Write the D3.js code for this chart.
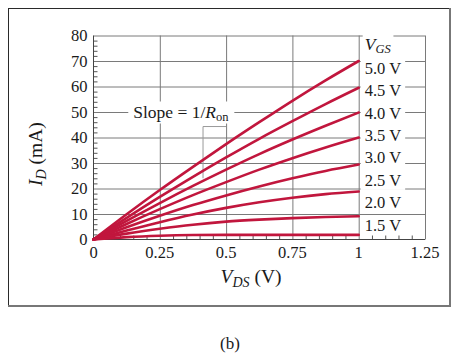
<!DOCTYPE html>
<html><head><meta charset="utf-8">
<script src="https://cdn.jsdelivr.net/npm/d3@7"></script>
<style>
body{margin:0;background:#fff}
svg{display:block}
text{font-family:"Liberation Serif","Times New Roman",serif;fill:#1a1a1a}
</style>
</head><body>
<svg id="c" width="460" height="357"></svg>
<script>
// ---- data ----
const vds = [0, 0.125, 0.25, 0.375, 0.5, 0.625, 0.75, 0.875, 1];
const id_5_0 = [0, 9.9, 19.4, 28.5, 37.4, 46.0, 54.4, 62.4, 70.0];
const id_4_5 = [0, 8.5, 16.7, 24.6, 32.2, 39.5, 46.4, 53.1, 59.5];
const id_4_0 = [0, 7.3, 14.3, 21.0, 27.4, 33.5, 39.2, 44.6, 49.8];
const id_3_5 = [0, 6.1, 11.9, 17.4, 22.5, 27.4, 31.9, 36.1, 40.0];
const id_3_0 = [0, 4.8, 9.3, 13.5, 17.3, 20.8, 24.0, 26.9, 29.4];
const id_2_5 = [0, 3.5, 6.8, 9.8, 12.4, 14.6, 16.4, 17.8, 18.8];
const id_2_0 = [0, 2.3, 4.2, 5.8, 7.0, 7.8, 8.4, 8.8, 9.1];
const id_1_5 = [0, 0.95, 1.5, 1.75, 1.8, 1.8, 1.8, 1.8, 1.8];
const vgsLabels = ["5.0 V", "4.5 V", "4.0 V", "3.5 V", "3.0 V", "2.5 V", "2.0 V", "1.5 V"];
const xTicks = [0, 0.25, 0.5, 0.75, 1, 1.25];
const xTickLabels = ["0", "0.25", "0.5", "0.75", "1", "1.25"];
const yTicks = [0, 10, 20, 30, 40, 50, 60, 70, 80];

const series = [id_5_0, id_4_5, id_4_0, id_3_5, id_3_0, id_2_5, id_2_0, id_1_5];

// ---- layout ----
const svg = d3.select("#c");
const L = 93.5, R = 425, T = 35.5, B = 239.5;
const x = d3.scaleLinear().domain([0, 1.25]).range([L, R]);
const y = d3.scaleLinear().domain([0, 80]).range([B, T]);
const red = "#c1163d";
const grid = "#7a7a7a";

// outer frame
svg.append("rect").attr("x", 8.5).attr("y", 8.5).attr("width", 441).attr("height", 297)
  .attr("fill", "none").attr("stroke", "#2a2a2a").attr("stroke-width", 1);
svg.append("line").attr("x1", 8).attr("x2", 451).attr("y1", 306).attr("y2", 306)
  .attr("stroke", "#777").attr("stroke-width", 2);
svg.append("line").attr("x1", 450).attr("x2", 450).attr("y1", 8).attr("y2", 307)
  .attr("stroke", "#777").attr("stroke-width", 2);

// gridlines
const gy = svg.append("g").attr("transform", `translate(${L},0)`)
  .call(d3.axisLeft(y).tickValues(yTicks.slice(1)).tickSize(-(R - L)).tickFormat(""));
gy.select(".domain").remove();
gy.selectAll("line").attr("stroke", grid).attr("stroke-width", 1);
const gx = svg.append("g").attr("transform", `translate(0,${B})`)
  .call(d3.axisBottom(x).tickValues(xTicks.slice(1)).tickSize(-(B - T)).tickFormat(""));
gx.select(".domain").remove();
gx.selectAll("line").attr("stroke", grid).attr("stroke-width", 1);

// minor ticks
const yMinor = d3.range(0, 80.001, 2).filter(v => v % 10 !== 0);
const my = svg.append("g").attr("transform", `translate(${L},0)`)
  .call(d3.axisLeft(y).tickValues(yMinor).tickSize(-4).tickFormat(""));
my.select(".domain").remove();
my.selectAll("line").attr("stroke", "#555");
const xMinor = d3.range(0, 1.2501, 0.05).filter(v => Math.abs(v / 0.25 - Math.round(v / 0.25)) > 1e-6);
const mx = svg.append("g").attr("transform", `translate(0,${B})`)
  .call(d3.axisBottom(x).tickValues(xMinor).tickSize(-4).tickFormat(""));
mx.select(".domain").remove();
mx.selectAll("line").attr("stroke", "#555");

// axis lines
svg.append("line").attr("x1", L).attr("x2", L).attr("y1", T).attr("y2", B).attr("stroke", "#444");
svg.append("line").attr("x1", L).attr("x2", R).attr("y1", B).attr("y2", B).attr("stroke", "#444");

// tick labels
svg.append("g").selectAll("text").data(yTicks).join("text")
  .attr("x", L - 6).attr("y", d => y(d)).attr("dy", "0.35em")
  .attr("text-anchor", "end").attr("font-size", 16.5).text(d => d);
svg.append("g").selectAll("text").data(xTicks).join("text")
  .attr("x", d => x(d)).attr("y", B + 18)
  .attr("text-anchor", "middle").attr("font-size", 16.5).text((d, i) => xTickLabels[i]);

// helper: text with white background
function bgText(g, build, pad) {
  const t = build(g);
  const bb = t.node().getBBox();
  g.insert("rect", "text").attr("x", bb.x - pad).attr("y", bb.y).attr("width", bb.width + 2 * pad)
    .attr("height", bb.height).attr("fill", "#fff");
  return t;
}

// slope annotation
const slopeG = svg.append("g");
bgText(slopeG, g => {
  const t = g.append("text").attr("x", x(0.15)).attr("y", y(50) + 5.5).attr("font-size", 17.5);
  t.append("tspan").text("Slope = 1/");
  t.append("tspan").attr("font-style", "italic").text("R");
  t.append("tspan").attr("font-size", 12.5).attr("dy", 3).text("on");
  return t;
}, 5);
// slope triangle marker
const slopeMarkV = 0.413, slopeMarkI = 44.3;
svg.append("path")
  .attr("d", d3.line()([[x(slopeMarkV), y(24)], [x(slopeMarkV), y(slopeMarkI)], [x(0.5), y(slopeMarkI)]]))
  .attr("fill", "none").attr("stroke", "#999").attr("stroke-width", 1);

// VGS header and labels
const labG = svg.append("g");
bgText(labG, g => {
  const t = g.append("text").attr("x", x(1) + 6).attr("y", 50).attr("font-size", 17.5);
  t.append("tspan").attr("font-style", "italic").text("V");
  t.append("tspan").attr("font-style", "italic").attr("font-size", 12.5).attr("dy", 3).text("GS");
  return t;
}, 2);
const labY = d3.scalePoint().domain(vgsLabels).range([68, 225]);
vgsLabels.forEach(l => {
  const g = labG.append("g");
  bgText(g, gg => gg.append("text").attr("x", x(1) + 6).attr("y", labY(l)).attr("dy", "0.35em")
    .attr("font-size", 16.5).text(l), 4);
});

// curves
const line = d3.line().x((d, i) => x(vds[i])).y(d => y(d)).curve(d3.curveMonotoneX);
svg.append("g").selectAll("path").data(series).join("path")
  .attr("d", line).attr("fill", "none").attr("stroke", red)
  .attr("stroke-width", 2.6).attr("stroke-linecap", "round");

// axis titles
const yt = svg.append("text").attr("transform", `translate(42,${154}) rotate(-90)`)
  .attr("text-anchor", "middle").attr("font-size", 19.5);
yt.append("tspan").attr("font-style", "italic").text("I");
yt.append("tspan").attr("font-style", "italic").attr("font-size", 14).attr("dy", 4).text("D");
yt.append("tspan").attr("dy", -4).text(" (mA)");

const xt = svg.append("text").attr("x", 251).attr("y", 283)
  .attr("text-anchor", "middle").attr("font-size", 19.5);
xt.append("tspan").attr("font-style", "italic").text("V");
xt.append("tspan").attr("font-style", "italic").attr("font-size", 14).attr("dy", 4).text("DS");
xt.append("tspan").attr("dy", -4).text(" (V)");

svg.append("text").attr("x", 230).attr("y", 349).attr("text-anchor", "middle")
  .attr("font-size", 17).text("(b)");
</script>
</body></html>
